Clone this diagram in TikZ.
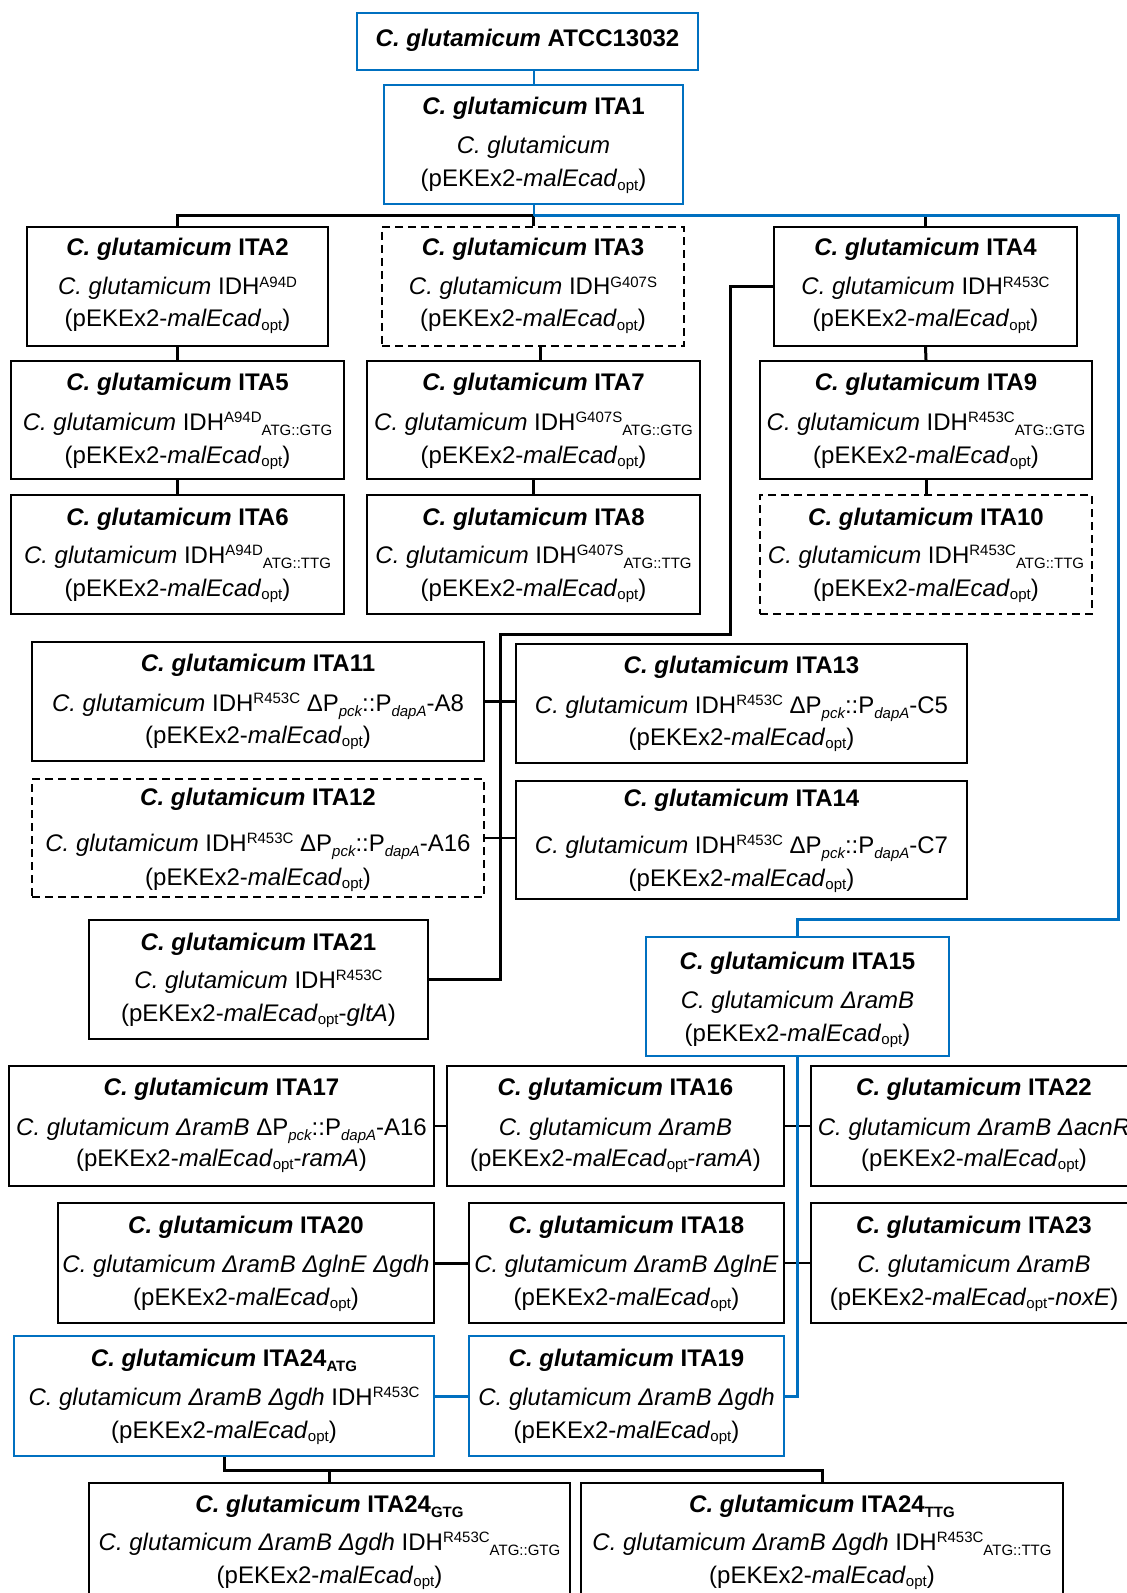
\documentclass[tikz,border=0pt]{standalone}
\usepackage{fontspec}
\setmainfont{Liberation Sans}
\usetikzlibrary{fit}
\definecolor{lineblue}{RGB}{0,112,192}
\newcommand{\supx}[1]{\raisebox{3.8pt}{\fontsize{7.5}{8}\selectfont\upshape\mdseries #1}}
\newcommand{\subx}[1]{\raisebox{-2.5pt}{\fontsize{7.5}{8}\selectfont\upshape #1}}
\newcommand{\opt}{\raisebox{-1.8pt}{\fontsize{7.5}{8}\selectfont\upshape opt}}
\newcommand{\cg}{\textit{C. glutamicum}}
\newcommand{\plas}{(pEKEx2-\textit{malEcad}\opt)}
\newcommand{\ttl}[1]{\textbf{\textit{C. glutamicum} #1}}
\newcommand{\pckdapa}[1]{ΔP\raisebox{-2.5pt}{\fontsize{7.5}{8}\selectfont\itshape pck}::P\raisebox{-2.5pt}{\fontsize{7.5}{8}\selectfont\itshape dapA}-#1}
\tikzset{
  bx/.style={draw=black, line width=1pt, inner sep=0pt},
  bxblue/.style={draw=lineblue, line width=1.1pt, inner sep=0pt},
  bxdash/.style={draw=black, line width=1pt, dash pattern=on 4pt off 2.5pt, inner sep=0pt},
  tx/.style={anchor=base, inner sep=0pt, font=\fontsize{12}{14}\selectfont},
  cn/.style={draw=black, line width=1.5pt},
  cnthin/.style={draw=black, line width=1.1pt},
  cnb/.style={draw=lineblue, line width=1.5pt},
  cnbthin/.style={draw=lineblue, line width=1pt},
}
\begin{document}
\begin{tikzpicture}[x=0.5pt,y=-0.5pt]
\useasboundingbox (0,0) rectangle (1127,1593);
\fill[white] (0,0) rectangle (1127,1593);

% ---------- boxes ----------
\node[bxblue, fit={(357,13) (698,70)}] (atcc) {};
\node[bxblue, fit={(384,85) (683,204)}] (ita1) {};
\node[bx,     fit={(27,227) (328,346)}] (ita2) {};
\node[bxdash, fit={(382,227) (684,346)}] (ita3) {};
\node[bx,     fit={(774,227) (1077,346)}] (ita4) {};
\node[bx,     fit={(11,361) (344,479)}] (ita5) {};
\node[bx,     fit={(367,361) (700,479)}] (ita7) {};
\node[bx,     fit={(760,361) (1092,479)}] (ita9) {};
\node[bx,     fit={(11,495) (344,614)}] (ita6) {};
\node[bx,     fit={(367,495) (700,614)}] (ita8) {};
\node[bxdash, fit={(760,495) (1092,614)}] (ita10) {};
\node[bx,     fit={(32,642) (484,761)}] (ita11) {};
\node[bx,     fit={(516,644) (967,763)}] (ita13) {};
\node[bxdash, fit={(32,779) (484,897)}] (ita12) {};
\node[bx,     fit={(516,781) (967,899)}] (ita14) {};
\node[bx,     fit={(89,920) (428,1039)}] (ita21) {};
\node[bxblue, fit={(646,937) (949,1056)}] (ita15) {};
\node[bx,     fit={(9,1066) (434,1186)}] (ita17) {};
\node[bx,     fit={(447,1066) (784,1186)}] (ita16) {};
\node[bx,     fit={(811,1066) (1137,1186)}] (ita22) {};
\node[bx,     fit={(58,1203) (434,1323)}] (ita20) {};
\node[bx,     fit={(469,1203) (784,1323)}] (ita18) {};
\node[bx,     fit={(811,1203) (1137,1323)}] (ita23) {};
\node[bxblue, fit={(14,1336) (434,1456)}] (ita24a) {};
\node[bxblue, fit={(469,1336) (784,1456)}] (ita19) {};
\node[bx,     fit={(89,1483) (570,1605)}] (ita24g) {};
\node[bx,     fit={(581,1483) (1063,1605)}] (ita24t) {};

% ---------- texts ----------
\node[tx] (atcc-a) at (527.5,47) {\ttl{ATCC13032}};

\node[tx] (ita1-a) at (533.5,115) {\ttl{ITA1}};
\node[tx] (ita1-b) at (533.5,154) {\cg};
\node[tx] (ita1-c) at (533.5,187) {\plas};

\node[tx] (ita2-a) at (177.5,256) {\ttl{ITA2}};
\node[tx] (ita2-b) at (177.5,295) {\cg{} IDH\supx{A94D}};
\node[tx] (ita2-c) at (177.5,327) {\plas};

\node[tx] (ita3-a) at (533,256) {\ttl{ITA3}};
\node[tx] (ita3-b) at (533,295) {\cg{} IDH\supx{G407S}};
\node[tx] (ita3-c) at (533,327) {\plas};

\node[tx] (ita4-a) at (925.5,256) {\ttl{ITA4}};
\node[tx] (ita4-b) at (925.5,295) {\cg{} IDH\supx{R453C}};
\node[tx] (ita4-c) at (925.5,327) {\plas};

\node[tx] (ita5-a) at (177.5,391) {\ttl{ITA5}};
\node[tx] (ita5-b) at (177.5,430) {\cg{} IDH\supx{A94D}\subx{ATG::GTG}};
\node[tx] (ita5-c) at (177.5,463) {\plas};

\node[tx] (ita7-a) at (533.5,391) {\ttl{ITA7}};
\node[tx] (ita7-b) at (533.5,430) {\cg{} IDH\supx{G407S}\subx{ATG::GTG}};
\node[tx] (ita7-c) at (533.5,463) {\plas};

\node[tx] (ita9-a) at (926,391) {\ttl{ITA9}};
\node[tx] (ita9-b) at (926,430) {\cg{} IDH\supx{R453C}\subx{ATG::GTG}};
\node[tx] (ita9-c) at (926,463) {\plas};

\node[tx] (ita6-a) at (177.5,525) {\ttl{ITA6}};
\node[tx] (ita6-b) at (177.5,563) {\cg{} IDH\supx{A94D}\subx{ATG::TTG}};
\node[tx] (ita6-c) at (177.5,596) {\plas};

\node[tx] (ita8-a) at (533.5,525) {\ttl{ITA8}};
\node[tx] (ita8-b) at (533.5,563) {\cg{} IDH\supx{G407S}\subx{ATG::TTG}};
\node[tx] (ita8-c) at (533.5,596) {\plas};

\node[tx] (ita10-a) at (926,525) {\ttl{ITA10}};
\node[tx] (ita10-b) at (926,563) {\cg{} IDH\supx{R453C}\subx{ATG::TTG}};
\node[tx] (ita10-c) at (926,596) {\plas};

\node[tx] (ita11-a) at (258,671) {\ttl{ITA11}};
\node[tx] (ita11-b) at (258,711) {\cg{} IDH\supx{R453C} \pckdapa{A8}};
\node[tx] (ita11-c) at (258,743) {\plas};

\node[tx] (ita13-a) at (741.5,673) {\ttl{ITA13}};
\node[tx] (ita13-b) at (741.5,713) {\cg{} IDH\supx{R453C} \pckdapa{C5}};
\node[tx] (ita13-c) at (741.5,745) {\plas};

\node[tx] (ita12-a) at (258,805) {\ttl{ITA12}};
\node[tx] (ita12-b) at (258,851) {\cg{} IDH\supx{R453C} \pckdapa{A16}};
\node[tx] (ita12-c) at (258,885) {\plas};

\node[tx] (ita14-a) at (741.5,806) {\ttl{ITA14}};
\node[tx] (ita14-b) at (741.5,853) {\cg{} IDH\supx{R453C} \pckdapa{C7}};
\node[tx] (ita14-c) at (741.5,886) {\plas};

\node[tx] (ita21-a) at (258.5,950) {\ttl{ITA21}};
\node[tx] (ita21-b) at (258.5,988) {\cg{} IDH\supx{R453C}};
\node[tx] (ita21-c) at (258.5,1021) {(pEKEx2-\textit{malEcad}\opt-\textit{gltA})};

\node[tx] (ita15-a) at (797.5,969) {\ttl{ITA15}};
\node[tx] (ita15-b) at (797.5,1008) {\textit{C. glutamicum ΔramB}};
\node[tx] (ita15-c) at (797.5,1041) {\plas};

\node[tx] (ita17-a) at (221.5,1095) {\ttl{ITA17}};
\node[tx] (ita17-b) at (221.5,1135) {\textit{C. glutamicum ΔramB} \pckdapa{A16}};
\node[tx] (ita17-c) at (221.5,1166) {(pEKEx2-\textit{malEcad}\opt-\textit{ramA})};

\node[tx] (ita16-a) at (615.5,1095) {\ttl{ITA16}};
\node[tx] (ita16-b) at (615.5,1135) {\textit{C. glutamicum ΔramB}};
\node[tx] (ita16-c) at (615.5,1166) {(pEKEx2-\textit{malEcad}\opt-\textit{ramA})};

\node[tx] (ita22-a) at (974,1095) {\ttl{ITA22}};
\node[tx] (ita22-b) at (974,1135) {\textit{C. glutamicum ΔramB ΔacnR}};
\node[tx] (ita22-c) at (974,1166) {\plas};

\node[tx] (ita20-a) at (246,1233) {\ttl{ITA20}};
\node[tx] (ita20-b) at (246,1272) {\textit{C. glutamicum ΔramB ΔglnE Δgdh}};
\node[tx] (ita20-c) at (246,1305) {\plas};

\node[tx] (ita18-a) at (626.5,1233) {\ttl{ITA18}};
\node[tx] (ita18-b) at (626.5,1272) {\textit{C. glutamicum ΔramB ΔglnE}};
\node[tx] (ita18-c) at (626.5,1305) {\plas};

\node[tx] (ita23-a) at (974,1233) {\ttl{ITA23}};
\node[tx] (ita23-b) at (974,1272) {\textit{C. glutamicum ΔramB}};
\node[tx] (ita23-c) at (974,1305) {(pEKEx2-\textit{malEcad}\opt-\textit{noxE})};

\node[tx] (ita24a-a) at (224,1366) {\ttl{ITA24\subx{ATG}}};
\node[tx] (ita24a-b) at (224,1405) {\textit{C. glutamicum ΔramB Δgdh} IDH\supx{R453C}};
\node[tx] (ita24a-c) at (224,1438) {\plas};

\node[tx] (ita19-a) at (626.5,1366) {\ttl{ITA19}};
\node[tx] (ita19-b) at (626.5,1405) {\textit{C. glutamicum ΔramB Δgdh}};
\node[tx] (ita19-c) at (626.5,1438) {\plas};

\node[tx] (ita24g-a) at (329.5,1512) {\ttl{ITA24\subx{GTG}}};
\node[tx] (ita24g-b) at (329.5,1550) {\textit{C. glutamicum ΔramB Δgdh} IDH\supx{R453C}\subx{ATG::GTG}};
\node[tx] (ita24g-c) at (329.5,1583) {\plas};

\node[tx] (ita24t-a) at (822,1512) {\ttl{ITA24\subx{TTG}}};
\node[tx] (ita24t-b) at (822,1550) {\textit{C. glutamicum ΔramB Δgdh} IDH\supx{R453C}\subx{ATG::TTG}};
\node[tx] (ita24t-c) at (822,1583) {\plas};

% ---------- junction coordinates ----------
\coordinate (bus1) at (533.5,216);
\coordinate (bR) at (1118,216);
\coordinate (bR2) at (1118,919);
\coordinate (j1) at (730,634);
\coordinate (j2) at (500,634);
\coordinate (m1) at (224,1470);

% ---------- black connectors ----------
\draw[cn] (ita2.north) |- (bus1) -- (ita4.north |- bus1) -- (ita4.north);
\draw[cn] (ita3.north) -- (ita3.north |- bus1);
\draw[cn] (ita2.south) -- (ita5.north);
\draw[cn] (ita5.south) -- (ita6.north);
\draw[cn] ([xshift=3.5pt]ita3.south) -- ([xshift=3.5pt]ita3.south |- ita7.north);
\draw[cn] (ita7.south) -- (ita8.north);
\draw[cn] (ita4.south) -- (ita9.north);
\draw[cn] (ita9.south) -- (ita10.north);
\draw[cn] (ita4.west) -| (j1) -- (j2) |- (ita21.east);
\draw[cn] (ita11.east) -- (ita11.east -| ita13.west);
\draw[cnthin] (ita12.east) -- (ita12.east -| ita14.west);
\draw[cnthin] (ita17.east) -- (ita17.east -| ita16.west);
\draw[cnthin] (ita16.east) -- (ita16.east -| ita22.west);
\draw[cn] (ita20.east) -- (ita20.east -| ita18.west);
\draw[cnthin] (ita18.east) -- (ita18.east -| ita23.west);
\draw[cn] (ita24a.south) -- (m1) -| (ita24t.north);
\draw[cn] (ita24g.north) -- (ita24g.north |- m1);

% ---------- blue connectors ----------
\draw[cnbthin] (ita1.north) -- (ita1.north |- atcc.south);
\draw[cnbthin] (ita1.south) -- (bus1);
\draw[cnb] (bus1) -- (bR) -- (bR2) -| (ita15.north);
\draw[cnb] (ita15.south) |- (ita19.east);
\draw[cnb] (ita24a.east) -- (ita24a.east -| ita19.west);
\end{tikzpicture}
\end{document}
